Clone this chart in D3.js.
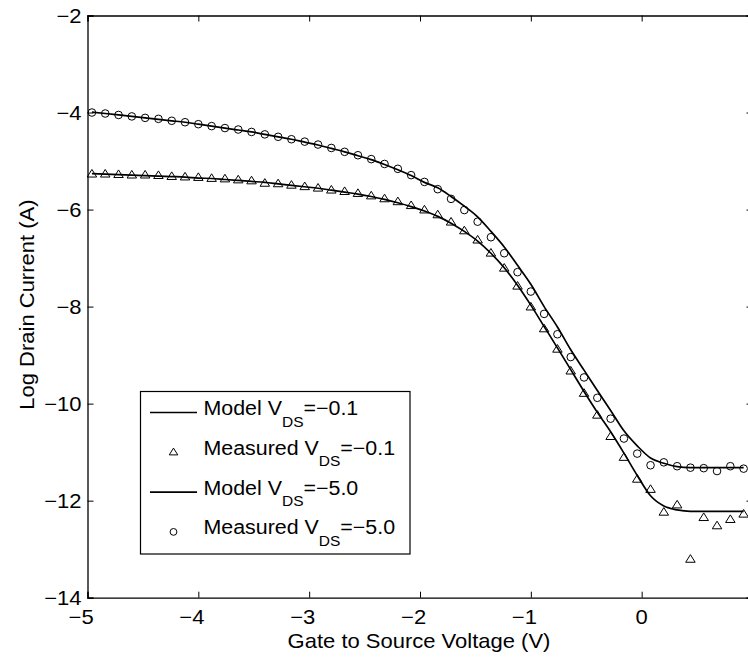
<!DOCTYPE html>
<html>
<head>
<meta charset="utf-8">
<script src="https://cdn.jsdelivr.net/npm/d3@7"></script>
<style>
  html, body { margin: 0; padding: 0; background: #fff; }
  svg { display: block; }
  text { font-family: "Liberation Sans", Arial, Helvetica, sans-serif; fill: #000; }
</style>
</head>
<body>
<svg id="chart" width="748" height="658"></svg>
<script>
// Gate voltage sweep (V)
const gateVoltage = [
  -4.96, -4.84, -4.72, -4.60, -4.48, -4.36, -4.24, -4.12, -4.00, -3.88,
  -3.76, -3.64, -3.52, -3.40, -3.28, -3.16, -3.04, -2.92, -2.80, -2.68,
  -2.56, -2.44, -2.32, -2.20, -2.08, -1.96, -1.84, -1.72, -1.60, -1.48,
  -1.36, -1.24, -1.12, -1.00, -0.88, -0.76, -0.64, -0.52, -0.40, -0.28,
  -0.16, -0.04, 0.08, 0.20, 0.32, 0.44, 0.56, 0.68, 0.80, 0.92
];

// log10 drain current, V_DS = -0.1 V
const measuredLow = [
  -5.27, -5.27, -5.28, -5.29, -5.29, -5.30, -5.32, -5.33, -5.34, -5.36,
  -5.37, -5.39, -5.41, -5.46, -5.47, -5.50, -5.53, -5.56, -5.60, -5.63,
  -5.67, -5.72, -5.78, -5.84, -5.92, -6.01, -6.11, -6.26, -6.44, -6.63,
  -6.90, -7.21, -7.58, -8.01, -8.46, -8.88, -9.33, -9.79, -10.24, -10.68,
  -11.11, -11.56, -11.77, -12.24, -12.09, -13.21, -12.35, -12.52, -12.39, -12.28
];
const modelLow = [
  -5.26, -5.27, -5.28, -5.29, -5.30, -5.31, -5.32, -5.33, -5.35, -5.36,
  -5.38, -5.40, -5.42, -5.44, -5.47, -5.50, -5.53, -5.56, -5.60, -5.64,
  -5.68, -5.73, -5.79, -5.86, -5.94, -6.03, -6.14, -6.28, -6.45, -6.65,
  -6.90, -7.20, -7.56, -7.97, -8.41, -8.85, -9.30, -9.75, -10.18, -10.58,
  -11.02, -11.48, -11.90, -12.11, -12.19, -12.22, -12.22, -12.22, -12.22, -12.22
];

// log10 drain current, V_DS = -5.0 V
const measuredHigh = [
  -4.00, -4.02, -4.05, -4.08, -4.11, -4.13, -4.17, -4.20, -4.24, -4.28,
  -4.32, -4.35, -4.40, -4.45, -4.50, -4.55, -4.60, -4.66, -4.73, -4.81,
  -4.88, -4.96, -5.06, -5.16, -5.29, -5.43, -5.58, -5.78, -6.01, -6.25,
  -6.57, -6.90, -7.29, -7.69, -8.15, -8.57, -9.04, -9.46, -9.88, -10.31,
  -10.72, -11.03, -11.27, -11.21, -11.29, -11.32, -11.33, -11.39, -11.29, -11.34
];
const modelHigh = [
  -3.99, -4.02, -4.05, -4.08, -4.11, -4.14, -4.17, -4.20, -4.24, -4.28,
  -4.32, -4.36, -4.40, -4.45, -4.50, -4.55, -4.61, -4.67, -4.74, -4.81,
  -4.89, -4.97, -5.07, -5.18, -5.30, -5.44, -5.55, -5.73, -5.93, -6.15,
  -6.45, -6.77, -7.15, -7.54, -8.00, -8.42, -8.89, -9.31, -9.73, -10.14,
  -10.56, -10.87, -11.12, -11.23, -11.30, -11.32, -11.32, -11.32, -11.32, -11.32
];

const xTicks = [-5, -4, -3, -2, -1, 0, 1];
const xTickLabels = [-5, -4, -3, -2, -1, 0];
const yTicks = [-14, -12, -10, -8, -6, -4, -2];

const legendLabels = [
  { kind: "line", main: "Model V", sub: "DS", tail: "=\u22120.1" },
  { kind: "triangle", main: "Measured V", sub: "DS", tail: "=\u22120.1" },
  { kind: "line", main: "Model V", sub: "DS", tail: "=\u22125.0" },
  { kind: "circle", main: "Measured V", sub: "DS", tail: "=\u22125.0" }
];

const svg = d3.select("#chart");
const plotLeft = 87.5, plotRight = 752.5, plotTop = 15.5, plotBottom = 597.7;

const x = d3.scaleLinear().domain([-5, 1]).range([plotLeft, plotRight]);
const y = d3.scaleLinear().domain([-14, -2]).range([plotBottom, plotTop]);

const fmt = d => (d < 0 ? "\u2212" + Math.abs(d) : String(d));
const tickLen = 6;
const fontSize = 20;
const wide = 1.1; // horizontal glyph stretch
const digitHalf = 0.556 * fontSize * wide / 2;

// axes: inward ticks on all four sides, labels drawn separately
const gx = svg.append("g").attr("transform", `translate(0,${plotBottom})`)
  .call(d3.axisBottom(x).tickValues(xTicks).tickSize(-tickLen).tickFormat(""));
const gxTop = svg.append("g").attr("transform", `translate(0,${plotTop})`)
  .call(d3.axisTop(x).tickValues(xTicks).tickSize(-tickLen).tickFormat(""));
const gy = svg.append("g").attr("transform", `translate(${plotLeft},0)`)
  .call(d3.axisLeft(y).tickValues(yTicks).tickSize(-tickLen).tickFormat(""));
const gyRight = svg.append("g").attr("transform", `translate(${plotRight},0)`)
  .call(d3.axisRight(y).tickValues(yTicks).tickSize(-tickLen).tickFormat(""));

[gx, gxTop, gy, gyRight].forEach(g => {
  g.select(".domain").attr("stroke", "#000").attr("stroke-width", 1.3);
  g.selectAll(".tick line").attr("stroke", "#000").attr("stroke-width", 1);
});

// tick labels (digits centred on the tick, minus sign hanging left)
svg.append("g").selectAll("text").data(yTicks).join("text")
  .attr("transform", d => `translate(81.5,${y(d) + 7}) scale(${wide},1)`)
  .attr("text-anchor", "end").attr("font-size", fontSize)
  .text(fmt);
svg.append("g").selectAll("text").data(xTickLabels).join("text")
  .attr("transform", d => `translate(${x(d) + digitHalf},623.5) scale(${wide},1)`)
  .attr("text-anchor", "end").attr("font-size", fontSize)
  .text(fmt);

// axis titles
svg.append("text")
  .attr("transform", `translate(419,648) scale(${wide},1)`)
  .attr("text-anchor", "middle").attr("font-size", fontSize)
  .text("Gate to Source Voltage (V)");
svg.append("text")
  .attr("transform", `translate(33.5,${(plotTop + plotBottom) / 2 - 2}) rotate(-90) scale(${wide},1)`)
  .attr("text-anchor", "middle").attr("font-size", fontSize)
  .text("Log Drain Current (A)");

// plot area
const plot = svg.append("g");
const line = d3.line()
  .x((d, i) => x(gateVoltage[i]))
  .y(d => y(d))
  .curve(d3.curveMonotoneX);

[modelLow, modelHigh].forEach(series => {
  plot.append("path").datum(series)
    .attr("d", line)
    .attr("fill", "none").attr("stroke", "#000").attr("stroke-width", 1.7);
});

const triPath = (s) => {
  const h = s * 0.8;
  return `M0,${-h * 0.62}L${s / 2},${h * 0.38}L${-s / 2},${h * 0.38}Z`;
};

plot.selectAll("path.tri").data(measuredLow).join("path")
  .attr("class", "tri")
  .attr("transform", (d, i) => `translate(${x(gateVoltage[i])},${y(d)})`)
  .attr("d", triPath(9.5))
  .attr("fill", "none").attr("stroke", "#000").attr("stroke-width", 1);

plot.selectAll("circle.meas").data(measuredHigh).join("circle")
  .attr("class", "meas")
  .attr("cx", (d, i) => x(gateVoltage[i]))
  .attr("cy", d => y(d))
  .attr("r", 3.8)
  .attr("fill", "none").attr("stroke", "#000").attr("stroke-width", 1);

// legend
const legend = svg.append("g");
legend.append("rect")
  .attr("x", 140.5).attr("y", 391.5).attr("width", 269.5).attr("height", 162.5)
  .attr("fill", "#fff").attr("stroke", "#000").attr("stroke-width", 1.2);

const legendWide = 1.07;
const rowY0 = 412.5, rowStep = 39.8;
legendLabels.forEach((item, k) => {
  const cy = rowY0 + k * rowStep;
  const row = legend.append("g");
  if (item.kind === "line") {
    row.append("line").attr("x1", 150).attr("x2", 197).attr("y1", cy).attr("y2", cy)
      .attr("stroke", "#000").attr("stroke-width", 1.7);
  } else if (item.kind === "triangle") {
    row.append("path").attr("transform", `translate(173.5,${cy})`).attr("d", triPath(8.5))
      .attr("fill", "none").attr("stroke", "#000").attr("stroke-width", 1);
  } else {
    row.append("circle").attr("cx", 173.5).attr("cy", cy).attr("r", 3.4)
      .attr("fill", "none").attr("stroke", "#000").attr("stroke-width", 1);
  }
  const t = row.append("text")
    .attr("transform", `translate(203.5,${cy + 2.5}) scale(${legendWide},1)`)
    .attr("font-size", fontSize);
  t.append("tspan").text(item.main);
  t.append("tspan").attr("font-size", 14.5).attr("dy", 11.5).text(item.sub);
  t.append("tspan").attr("dy", -11.5).text(item.tail);
});
</script>
</body>
</html>
